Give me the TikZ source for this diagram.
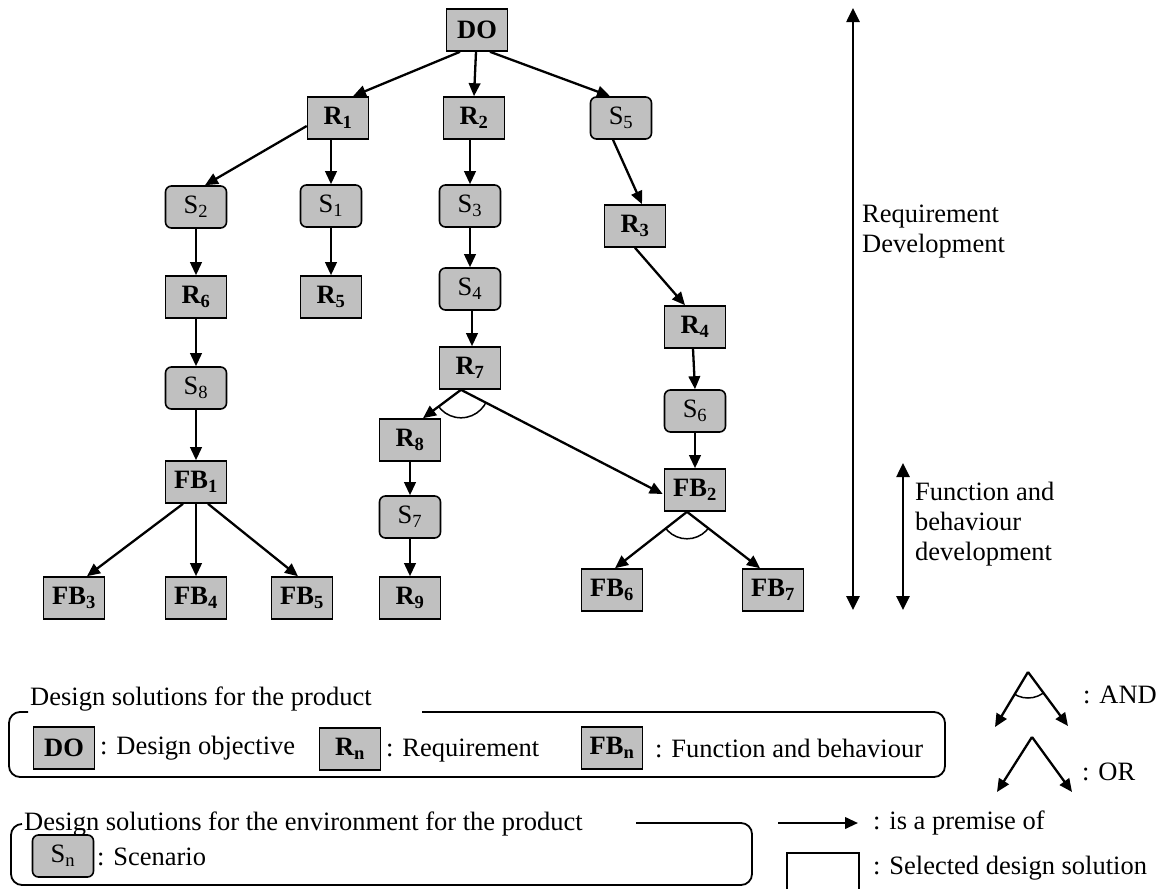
\documentclass[tikz,border=0pt]{standalone}
\usepackage{fontspec}
\setmainfont{Liberation Serif}
\usetikzlibrary{arrows.meta,calc}
\definecolor{boxgray}{HTML}{C0C0C0}
\newcommand{\Rsub}[1]{\textbf{R\textsubscript{#1}}}
\newcommand{\Ssub}[1]{S\textsubscript{#1}}
\newcommand{\FBsub}[1]{\textbf{FB\textsubscript{#1}}}
\begin{document}
\begin{tikzpicture}[x=1pt,y=-1pt,
  font=\fontsize{26.5}{30}\selectfont,
  rbox/.style={draw=black, line width=1.6pt, fill=boxgray, minimum width=61pt, minimum height=42pt, inner sep=0pt},
  sbox/.style={rbox, rounded corners=6pt},
  arr/.style={line width=2.3pt, -{Triangle[length=13pt,width=11.5pt]}},
  darr/.style={line width=2.6pt, {Triangle[length=14pt,width=13pt]}-{Triangle[length=14pt,width=13pt]}},
  lab/.style={inner sep=0pt, anchor=west},
  legline/.style={line width=1.8pt, rounded corners=11pt},
  arcline/.style={line width=1.5pt}
]
\useasboundingbox (0,0) rectangle (1159,889);

% ---------- tree nodes ----------
\node[rbox] (DO) at (477,30) {\textbf{DO}};
\node[rbox] (R1) at (338,118) {\Rsub{1}};
\node[rbox] (R2) at (474,118) {\Rsub{2}};
\node[sbox] (S5) at (621,118) {\Ssub{5}};
\node[sbox] (S2) at (196,207) {\Ssub{2}};
\node[sbox] (S1) at (331,206) {\Ssub{1}};
\node[sbox] (S3) at (470,206) {\Ssub{3}};
\node[rbox] (R3) at (635,226) {\Rsub{3}};
\node[rbox] (R6) at (196,297) {\Rsub{6}};
\node[rbox] (R5) at (331,297) {\Rsub{5}};
\node[sbox] (S4) at (470,289) {\Ssub{4}};
\node[rbox] (R4) at (695,327) {\Rsub{4}};
\node[sbox] (S8) at (196,388) {\Ssub{8}};
\node[rbox] (R7) at (470,368) {\Rsub{7}};
\node[sbox] (S6) at (695,411) {\Ssub{6}};
\node[rbox] (R8) at (410,440) {\Rsub{8}};
\node[rbox] (FB1) at (196,482) {\FBsub{1}};
\node[rbox] (FB2) at (695,490) {\FBsub{2}};
\node[sbox] (S7) at (410,517) {\Ssub{7}};
\node[rbox] (FB3) at (74,598) {\FBsub{3}};
\node[rbox] (FB4) at (196,598) {\FBsub{4}};
\node[rbox] (FB5) at (302,598) {\FBsub{5}};
\node[rbox] (R9) at (410,598) {\Rsub{9}};
\node[rbox] (FB6) at (612,590) {\FBsub{6}};
\node[rbox] (FB7) at (773,590) {\FBsub{7}};

% ---------- tree connectors ----------
\draw[arr] ($(DO.south)+(-17,0)$) -- ($(R1.north)+(15,0)$);
\draw[arr] ($(DO.south)+(-1,0)$) -- (R2.north);
\draw[arr] ($(DO.south)+(13,0)$) -- ($(S5.north)+(-11,0)$);
\draw[arr] ($(R1.west)+(0,8)$) -- ($(S2.north)+(9,0)$);
\draw[arr] (S1.north |- R1.south) -- (S1.north);
\draw[arr] (S1.south) -- (R5.north);
\draw[arr] (S3.north |- R2.south) -- (S3.north);
\draw[arr] (S3.south) -- (S4.north);
\draw[arr] ($(S4.south)+(2,0)$) -- ($(R7.north)+(2,0)$);
\draw[arr] (S2.south) -- (R6.north);
\draw[arr] (R6.south) -- (S8.north);
\draw[arr] (S8.south) -- (FB1.north);
\draw[arr] ($(FB1.south)+(-13,0)$) -- ($(FB3.north)+(13,0)$);
\draw[arr] (FB1.south) -- (FB4.north);
\draw[arr] ($(FB1.south)+(12,0)$) -- ($(FB5.north)+(-4,0)$);
\coordinate (R7b) at ($(R7.south)+(-9,0)$);
\coordinate (R8t) at ($(R8.north)+(13,0)$);
\coordinate (FB2l) at ($(FB2.west)+(-1,4)$);
\draw[arr] (R7b) -- (R8t);
\draw[arr] (R7b) -- (FB2l);
\begin{scope}
  \clip (R7b) -- (R8t) -- (FB2l) -- cycle;
  \draw[arcline] (R7b) circle (28pt);
\end{scope}
\draw[arr] (R8.south) -- (S7.north);
\draw[arr] (S7.south) -- (R9.north);
\draw[arr] ($(S5.south)+(-8,0)$) -- ($(R3.north)+(7,0)$);
\draw[arr] (R3.south) -- ($(R4.north)+(-10,0)$);
\draw[arr] ($(R4.south)+(-2,0)$) -- (S6.north);
\draw[arr] (S6.south) -- (FB2.north);
\coordinate (FB2b) at ($(FB2.south)+(-8,0)$);
\coordinate (FB6t) at ($(FB6.north)+(3,0)$);
\coordinate (FB7t) at ($(FB7.north)+(-13,0)$);
\draw[arr] (FB2b) -- (FB6t);
\draw[arr] (FB2b) -- (FB7t);
\begin{scope}
  \clip (FB2b) -- (FB6t) -- (FB7t) -- cycle;
  \draw[arcline] (FB2b) circle (27pt);
\end{scope}

% ---------- development arrows ----------
\coordinate (rdTop) at (853,8);
\coordinate (rdBot) at (853,610);
\coordinate (fbTop) at (903,463);
\coordinate (fbBot) at (903,610);
\draw[darr] (rdBot) -- (rdTop);
\draw[darr] (fbBot) -- (fbTop);
\node[lab, align=left] (reqdev) at (862,232) {Requirement\\Development};
\node[lab, align=left] (fbdev) at (915,524) {Function and\\behaviour\\development};

% ---------- legend: product ----------
\draw[legline] (28,712) -- (9,712) -- (9,777) -- (945,777) -- (945,712) -- (422,712);
\node[lab] (legP) at (30,699) {Design solutions for the product};
\node[rbox] (lDO) at (64,748) {\textbf{DO}};
\node[lab] (lDOt) at (100,748) {: Design objective};
\node[rbox] (lR) at (350,749) {\Rsub{n}};
\node[lab] (lRt) at (386,751) {: Requirement};
\node[rbox] (lFB) at (612,748) {\FBsub{n}};
\node[lab] (lFBt) at (655,748) {: Function and behaviour};

% ---------- legend: environment ----------
\draw[legline] (22,824) -- (11,824) -- (11,885) -- (752,885) -- (752,823) -- (636,823);
\node[lab] (legE) at (24,824) {Design solutions for the environment for the product};
\node[sbox] (lS) at (63,856) {\Ssub{n}};
\node[lab] (lSt) at (97,857) {: Scenario};

% ---------- legend: symbols ----------
\coordinate (andA) at (1028,672);
\coordinate (andL) at (995,727);
\coordinate (andR) at (1068,726);
\draw[arr] (andA) -- (andL);
\draw[arr] (andA) -- (andR);
\begin{scope}
  \clip (andA) -- (andL) -- (andR) -- cycle;
  \draw[arcline] (andA) circle (26pt);
\end{scope}
\node[lab] (andT) at (1083,695) {: AND};
\coordinate (orA) at (1032,737);
\coordinate (orL) at (997,792);
\coordinate (orR) at (1072,792);
\draw[arr] (orA) -- (orL);
\draw[arr] (orA) -- (orR);
\node[lab] (orT) at (1082,772) {: OR};
\coordinate (pa) at (778,823);
\coordinate (pb) at (858,823);
\draw[arr] (pa) -- (pb);
\node[lab] (premT) at (873,823) {: is a premise of};
\draw[line width=1.6pt] (787,889) -- (787,853) -- (859,853) -- (859,889);
\node[lab] (selT) at (873,868) {: Selected design solution};
\end{tikzpicture}
\end{document}
